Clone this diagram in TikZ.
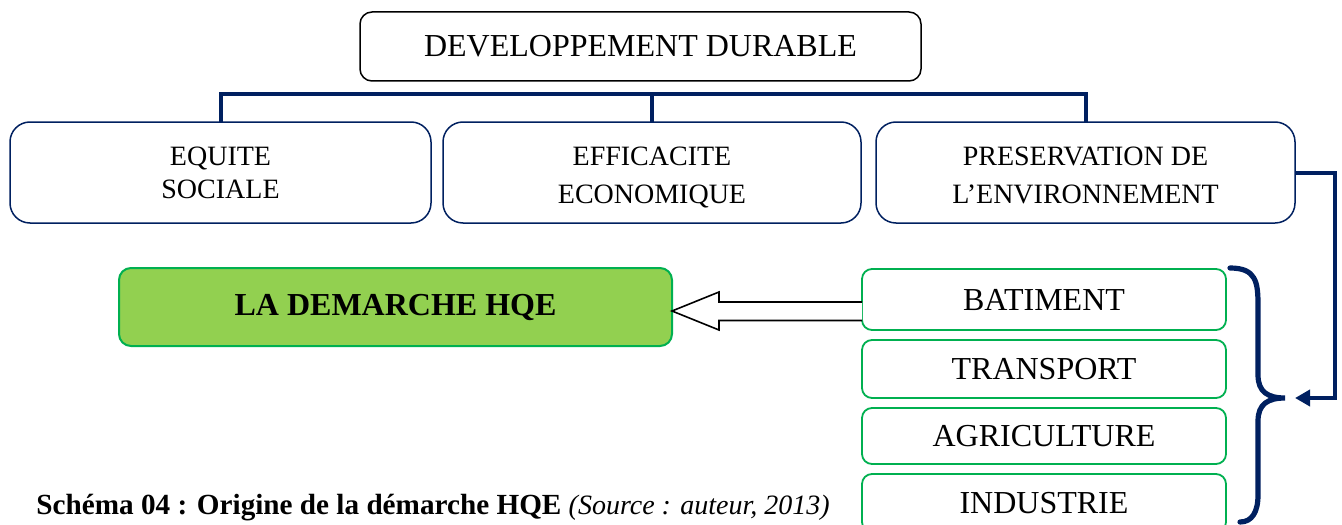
\documentclass[tikz,border=0pt]{standalone}
\usepackage{fontspec}
\setmainfont{Liberation Serif}
\usetikzlibrary{arrows.meta,calc}
\definecolor{navy}{HTML}{002060}
\definecolor{gstroke}{HTML}{00B050}
\definecolor{gfill}{HTML}{92D050}
\tikzset{
  px/.style={x=0.5pt,y=-0.5pt},
  topbox/.style={draw=black,line width=0.75pt,rounded corners=6pt,inner sep=0pt,outer sep=0pt,align=center,
    font=\fontsize{16}{19}\selectfont},
  pillar/.style={draw=navy,line width=0.75pt,rounded corners=10pt,inner sep=0pt,outer sep=0pt,
    minimum height=50.5pt},
  ptext/.style={inner sep=0pt,align=center},
  hqebox/.style={draw=gstroke,fill=gfill,line width=1pt,rounded corners=6pt,inner sep=0pt,outer sep=0pt,
    font=\fontsize{16}{19}\selectfont\bfseries},
  sector/.style={draw=gstroke,line width=0.9pt,rounded corners=5pt,inner sep=0pt,outer sep=0pt,
    minimum width=182pt,font=\fontsize{16}{19}\selectfont},
  link/.style={draw=navy,line width=2pt,line join=miter},
  bigarrow/.style={draw=black,fill=white,line width=0.8pt,line join=miter},
  caption/.style={inner sep=0pt,anchor=base west,font=\fontsize{14.6}{17}\selectfont}
}
\begin{document}
\begin{tikzpicture}[px]
\clip (0,0) rectangle (1342,524);
\fill[white] (0,0) rectangle (1342,524);

\node[topbox,minimum width=280.5pt,minimum height=34.5pt] (dd) at (640.5,46.5) {DEVELOPPEMENT DURABLE};

\node[pillar,minimum width=210.5pt] (eq) at (220.5,172.5) {};
\node[pillar,minimum width=209pt] (ef) at (652,172.5) {};
\node[pillar,minimum width=209.5pt] (pr) at (1085.5,172.5) {};
\node[ptext,font=\fontsize{14}{16.5}\selectfont] (eqt) at ($(eq.center)+(0,2.5)$) {\strut EQUITE\\\strut SOCIALE};
\node[ptext,font=\fontsize{14}{19}\selectfont] (eft) at ($(ef.center)+(0,4.5)$) {\strut EFFICACITE\\\strut ECONOMIQUE};
\node[ptext,font=\fontsize{14}{19}\selectfont] (prt) at ($(pr.center)+(0,4.5)$) {\strut PRESERVATION DE\\\strut L’ENVIRONNEMENT};

\draw[link] (eq.north) -- ++(0,-28) -| (pr.north);
\draw[link] (ef.north) -- ++(0,-28);

\node[hqebox,minimum width=276.5pt,minimum height=39pt] (hqe) at (395.5,307) {LA DEMARCHE HQE};

\node[sector,minimum height=30.5pt] (bat) at (1044,299.5) {BATIMENT};
\node[sector,minimum height=29pt] (tra) at (1044,369) {TRANSPORT};
\node[sector,minimum height=28pt] (agr) at (1044,436) {AGRICULTURE};
\node[sector,minimum height=29pt,text depth=0pt] (ind) at (1044,503) {INDUSTRIE};

% hollow arrow from BATIMENT to LA DEMARCHE HQE
\draw[bigarrow] ($(bat.west)+(0,2.5)$) -- ++(-143,0) -- ++(0,-10) -- ($(hqe.east)+(0,4)$)
  -- ($(bat.west)+(-143,30.5)$) -- ++(0,-9.5) -- ($(bat.west)+(0,21)$);

% brace
\draw[navy,line width=2.6pt,line cap=round]
  (1230,268) .. controls (1256,268) and (1258,282) .. (1258,305) -- (1258,375)
  .. controls (1258,392) and (1268,398) .. (1285,398)
  .. controls (1268,398) and (1258,404) .. (1258,421) -- (1258,495)
  .. controls (1258,512) and (1252,522) .. (1240,522);

\coordinate (tip) at (1295,398);
\draw[link,-{Triangle[length=7.5pt,width=8pt]}] (pr.east) -- ++(40,0) |- (tip);

\node[caption] (cap) at (36,514) {\textbf{Schéma 04 : Origine de la démarche HQE} {\fontsize{14}{16}\selectfont\itshape (Source : auteur, 2013)}};
\end{tikzpicture}
\end{document}
